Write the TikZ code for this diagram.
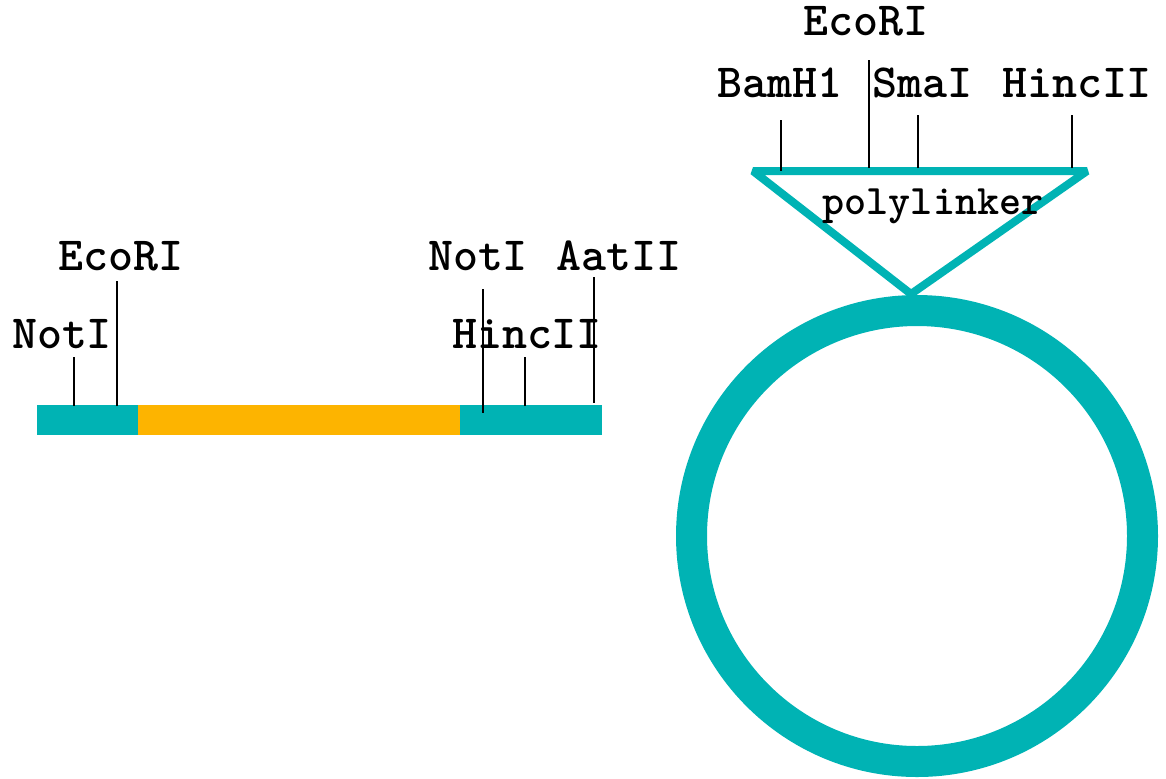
\documentclass[tikz,border=0pt]{standalone}
\usepackage{fontspec}
\definecolor{teal}{RGB}{0,179,180}
\definecolor{insert}{RGB}{253,180,0}
\begin{document}
\begin{tikzpicture}[x=0.5pt,y=-0.5pt,
  site/.style={font=\ttfamily\bfseries\fontsize{23.8pt}{26pt}\selectfont, anchor=base, inner sep=0pt},
  tick/.style={black, line width=0.8pt},
  ring/.style={teal, line width=15.5pt}]
\useasboundingbox (0,0) rectangle (1166,778);

% linear fragment: vector ends with insert in the middle
\fill[teal] (37,405) rectangle (602,435);
\fill[insert] (138,405) rectangle (460,435);

% restriction sites on the fragment
\node[site] (notIa) at (62,348) {NotI};
\node[site] (ecoRIa) at (121,270) {EcoRI};
\node[site] (notIb) at (478,270) {NotI};
\node[site] (hincIIa) at (527,348) {HincII};
\node[site] (aatII) at (619,270) {AatII};

\coordinate (t1a) at (74,357);  \coordinate (t1b) at (74,406);
\coordinate (t2a) at (117,281); \coordinate (t2b) at (117,406);
\coordinate (t3a) at (483,289); \coordinate (t3b) at (483,413);
\coordinate (t4a) at (525,357); \coordinate (t4b) at (525,406);
\coordinate (t5a) at (594,277); \coordinate (t5b) at (594,403);
\foreach \s in {1,...,5} \draw[tick] (t\s a) -- (t\s b);

% circular plasmid
\draw[ring] (917,536) circle[radius=225.5];

% polylinker triangle
\coordinate (pl) at (753,171);
\coordinate (pr) at (1087,171);
\coordinate (pa) at (911,294);
\draw[teal, line width=4pt, line join=bevel] (pl) -- (pr) -- (pa) -- cycle;
\node[site, font=\ttfamily\bfseries\fontsize{21pt}{24pt}\selectfont] (poly) at (933,214) {polylinker};

% restriction sites in the polylinker
\node[site] (ecoRIb) at (866,35) {EcoRI};
\node[site] (bamH1) at (780,97) {BamH1};
\node[site] (smaI) at (922,97) {SmaI};
\node[site] (hincIIb) at (1077,97) {HincII};

\coordinate (p1a) at (781,120);  \coordinate (p1b) at (781,171);
\coordinate (p2a) at (869,60);   \coordinate (p2b) at (869,168);
\coordinate (p3a) at (918,115);  \coordinate (p3b) at (918,168);
\coordinate (p4a) at (1072,115); \coordinate (p4b) at (1072,168);
\foreach \s in {1,...,4} \draw[tick] (p\s a) -- (p\s b);
\end{tikzpicture}
\end{document}
